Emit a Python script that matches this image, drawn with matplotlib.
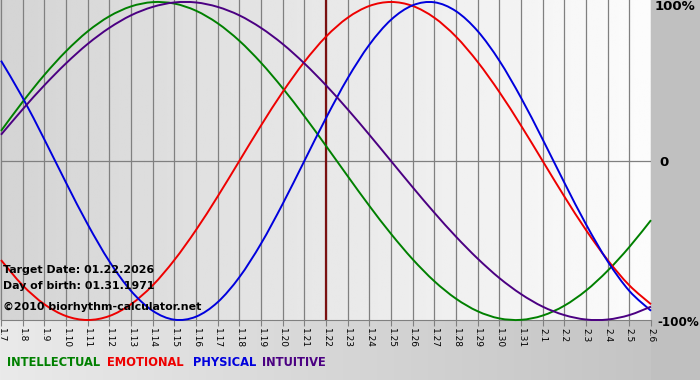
import numpy as np
import matplotlib
matplotlib.use("Agg")
import matplotlib.pyplot as plt
from matplotlib.path import Path
from matplotlib.patches import PathPatch

# 日期刻度 (1.7 ~ 2.6)
days = ["1.7", "1.8", "1.9", "1.10", "1.11", "1.12", "1.13", "1.14", "1.15", "1.16",
        "1.17", "1.18", "1.19", "1.20", "1.21", "1.22", "1.23", "1.24", "1.25", "1.26",
        "1.27", "1.28", "1.29", "1.30", "1.31", "2.1", "2.2", "2.3", "2.4", "2.5", "2.6"]
target_day = "1.22"

# 各周期读数 (-1 ~ 1)
intellectual = [0.189, 0.372, 0.541, 0.690, 0.815, 0.910, 0.972, 0.999, 0.990, 0.945, 0.866,
                0.756, 0.618, 0.458, 0.282, 0.095, -0.095, -0.282, -0.458, -0.618, -0.756,
                -0.866, -0.945, -0.990, -0.999, -0.972, -0.910, -0.815, -0.690, -0.541, -0.372]
emotional = [-0.623, -0.782, -0.901, -0.975, -1.000, -0.975, -0.901, -0.782, -0.623, -0.434, -0.223,
             0.000, 0.223, 0.434, 0.623, 0.782, 0.901, 0.975, 1.000, 0.975, 0.901,
             0.782, 0.623, 0.434, 0.223, 0.000, -0.223, -0.434, -0.623, -0.782, -0.901]
physical = [0.631, 0.398, 0.136, -0.136, -0.398, -0.631, -0.817, -0.942, -0.998, -0.979, -0.888,
            -0.731, -0.520, -0.270, 0.000, 0.270, 0.520, 0.731, 0.888, 0.979, 0.998,
            0.942, 0.817, 0.631, 0.398, 0.136, -0.136, -0.398, -0.631, -0.817, -0.942]
intuitive = [0.165, 0.325, 0.476, 0.614, 0.736, 0.837, 0.916, 0.969, 0.997, 0.997, 0.969,
             0.916, 0.837, 0.736, 0.614, 0.476, 0.325, 0.165, 0.000, -0.165, -0.325,
             -0.476, -0.614, -0.736, -0.837, -0.916, -0.969, -0.997, -0.997, -0.969, -0.916]


def smooth_path(xs, ys):
    # 平滑曲线 (Catmull-Rom -> Bezier), 经过每个数据点
    p = np.column_stack([xs, ys]).astype(float)
    ext = np.vstack([p[0], p, p[-1]])
    verts = [p[0]]
    codes = [Path.MOVETO]
    for i in range(len(p) - 1):
        a, b, c, d = ext[i], ext[i + 1], ext[i + 2], ext[i + 3]
        verts += [b + (c - a) / 6, c - (d - b) / 6, c]
        codes += [Path.CURVE4] * 3
    return Path(verts, codes)


W, H = 700, 380
fig = plt.figure(figsize=(W / 100, H / 100), dpi=100)

# 背景: 右侧灰条 + 底部渐变
bg = fig.add_axes([0, 0, 1, 1], zorder=0)
bg.set_axis_off()
img = np.ones((H, W, 3)) * (192 / 255)
g = np.linspace(234, 196, 651) / 255
img[320:, :651, :] = g[None, :, None]
bg.imshow(img, aspect="auto", extent=(0, W, H, 0), interpolation="bilinear")
bg.set_xlim(0, W)
bg.set_ylim(H, 0)

x0, x1 = 1, 651
ax = fig.add_axes([x0 / W, 60 / H, (x1 - x0) / W, 320 / H], zorder=1)
ax.set_xlim(0, len(days) - 1)
ax.set_ylim(-1.0, 1.0125)

# 绘图区渐变
grad = np.linspace(212, 252, 256) / 255
ax.imshow(np.tile(grad, (2, 1)), cmap="gray", vmin=0, vmax=1, aspect="auto",
          extent=(0, len(days) - 1, -1.0, 1.0125), zorder=0)

x = np.arange(len(days))
for i in x:
    ax.axvline(i, color="#808080", lw=0.9, zorder=1)
ax.axhline(0, color="#808080", lw=0.9, zorder=1)
ax.axvline(days.index(target_day), color="#7a1010", lw=1.6, zorder=2)

series = [(intellectual, "#008000"), (emotional, "#ee0000"),
          (physical, "#0000dd"), (intuitive, "#4b0082")]
for ys, c in series:
    ax.add_patch(PathPatch(smooth_path(x, ys), fill=False, edgecolor=c, lw=1.4,
                           zorder=3, clip_on=False))

for s in ["top", "left", "right"]:
    ax.spines[s].set_visible(False)
ax.spines["bottom"].set_color("#808080")
ax.set_yticks([])
ax.set_xticks(x)
ax.set_xticklabels(days, rotation=-90, fontsize=6.5)
ax.tick_params(axis="x", length=4, color="#808080", pad=2)

# 文字
fs = 7.9
fig.text(3 / W, 1 - 270 / H, "Target Date: 01.22.2026", fontsize=fs, fontweight="bold", va="center")
fig.text(3 / W, 1 - 286 / H, "Day of birth: 01.31.1971", fontsize=fs, fontweight="bold", va="center")
fig.text(3 / W, 1 - 307 / H, "\u00a92010 biorhythm-calculator.net", fontsize=fs, fontweight="bold", va="center")

fig.text(655 / W, 1 - 7 / H, "100%", fontsize=9.5, fontweight="bold", va="center")
fig.text(659 / W, 1 - 162 / H, "0", fontsize=9.5, fontweight="bold", va="center")
fig.text(657 / W, 1 - 322 / H, "-100%", fontsize=8.6, fontweight="bold", va="center")

legend = [("INTELLECTUAL", "#008000", 7), ("EMOTIONAL", "#ee0000", 107),
          ("PHYSICAL", "#0000dd", 193), ("INTUITIVE", "#4b0082", 262)]
for name, c, px in legend:
    fig.text(px / W, 1 - 362 / H, name, fontsize=8.3, fontweight="bold", color=c, va="center")

fig.savefig("out.png", dpi=100)
